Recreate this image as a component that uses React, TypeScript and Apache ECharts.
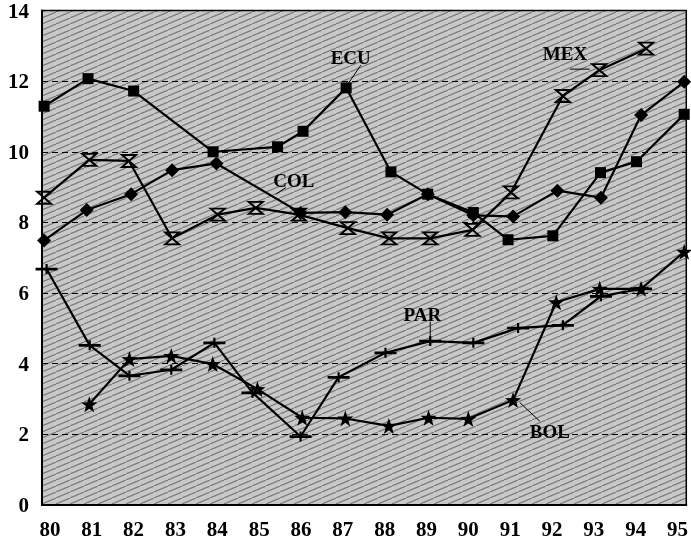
import React, { useEffect, useRef } from "react";
import * as echarts from "echarts";

// Years (x) and values (y) for each series
const ecuX = [79.86, 80.91, 82.0, 83.9, 85.44, 86.05, 87.08, 88.15, 89.03, 90.12, 90.95, 92.02, 93.16, 94.02, 95.16];
const ecuY = [11.29, 12.07, 11.72, 10.0, 10.14, 10.58, 11.81, 9.43, 8.8, 8.28, 7.51, 7.62, 9.41, 9.72, 11.06];

const mexX = [79.86, 80.94, 81.89, 82.92, 84.01, 84.92, 85.95, 87.12, 88.11, 89.09, 90.1, 91.02, 92.26, 93.13, 94.25];
const mexY = [8.7, 9.77, 9.74, 7.55, 8.22, 8.41, 8.22, 7.84, 7.55, 7.55, 7.79, 8.85, 11.58, 12.31, 12.92];

const colX = [79.86, 80.88, 81.94, 82.92, 83.98, 85.99, 87.06, 88.06, 89.03, 90.12, 91.07, 92.13, 93.17, 94.13, 95.16];
const colY = [7.49, 8.35, 8.8, 9.48, 9.67, 8.27, 8.29, 8.22, 8.8, 8.2, 8.17, 8.9, 8.7, 11.04, 11.98];

const parX = [79.92, 80.95, 81.9, 82.9, 83.93, 84.84, 85.99, 86.9, 88.02, 89.09, 90.12, 91.19, 92.26, 93.17, 94.13];
const parY = [6.68, 4.52, 3.66, 3.83, 4.59, 3.18, 1.94, 3.62, 4.31, 4.64, 4.59, 5.01, 5.09, 5.91, 6.12];

const bolX = [80.94, 81.9, 82.9, 83.89, 84.96, 86.03, 87.06, 88.1, 89.05, 90.0, 91.07, 92.1, 93.14, 94.13, 95.16];
const bolY = [2.85, 4.13, 4.22, 3.99, 3.28, 2.47, 2.45, 2.24, 2.47, 2.44, 2.97, 5.74, 6.12, 6.12, 7.17];

const xTickLabels = [80, 81, 82, 83, 84, 85, 86, 87, 88, 89, 90, 91, 92, 93, 94, 95];

// Series name labels: text anchor and leader line (data coordinates)
const seriesLabels = [
  { text: "ECU", at: [87.19, 12.68], leader: [[87.43, 12.45], [87.14, 11.95]] },
  { text: "MEX", at: [92.31, 12.79], leader: [[92.43, 12.34], [92.9, 12.34]] },
  { text: "COL", at: [85.83, 9.2], leader: [[85.64, 8.99], [85.4, 8.8]] },
  { text: "PAR", at: [88.9, 5.4], leader: [[89.09, 5.19], [89.09, 4.59]] },
  { text: "BOL", at: [91.95, 2.09], leader: [[91.23, 2.9], [91.71, 2.37]] },
];

const zip = (xs: number[], ys: number[]) => xs.map((x, i) => [x, ys[i]]);

const HOURGLASS = "path://M0,0 L12,0 L0,12 L12,12 Z";
const DASH = "path://M0,4 L20,4 L20,6.2 L0,6.2 Z M9,1 L11,1 L11,9 L9,9 Z";
const STAR =
  "path://M10,0 L12.35,6.76 L19.51,6.91 L13.8,11.24 L15.88,18.09 L10,14 L4.12,18.09 L6.2,11.24 L0.49,6.91 L7.65,6.76 Z";

function makePattern() {
  const c = document.createElement("canvas");
  c.width = 14;
  c.height = 6;
  const ctx = c.getContext("2d");
  if (ctx) {
    ctx.fillStyle = "#c8c8c8";
    ctx.fillRect(0, 0, 14, 6);
    ctx.strokeStyle = "#7a7a7a";
    ctx.lineWidth = 1.2;
    ctx.beginPath();
    ctx.moveTo(-1, 6.4);
    ctx.lineTo(15, -0.4);
    ctx.stroke();
  }
  return { image: c, repeat: "repeat" };
}

export default function App() {
  const ref = useRef<HTMLDivElement>(null);
  useEffect(() => {
    if (!ref.current) return;
    document.body.style.margin = "0";
    const chart = echarts.init(ref.current, null, { renderer: "svg" });
    const font = "'Liberation Serif', 'Times New Roman', serif";
    const lineStyle = { color: "#000", width: 2.2 };
    const base = {
      type: "line",
      lineStyle,
      z: 3,
    };
    chart.setOption({
      animation: false,
      grid: {
        left: 42,
        right: 2,
        top: 10,
        bottom: 38,
        show: true,
        backgroundColor: makePattern(),
        borderColor: "#000",
        borderWidth: 1.5,
      },
      xAxis: {
        type: "value",
        min: 79.81,
        max: 95.21,
        axisLine: { show: true, lineStyle: { color: "#000", width: 2 } },
        axisTick: { show: false },
        splitLine: { show: false },
        axisLabel: {
          customValues: xTickLabels,
          margin: 13,
          color: "#000",
          fontFamily: font,
          fontWeight: "bold",
          fontSize: 21,
        },
      },
      yAxis: {
        type: "value",
        min: 0,
        max: 14,
        interval: 2,
        axisLine: { show: true, lineStyle: { color: "#000", width: 2 } },
        axisTick: { show: false },
        splitLine: { show: true, lineStyle: { color: "#000", width: 1, type: [6, 4] } },
        axisLabel: {
          margin: 13,
          color: "#000",
          fontFamily: font,
          fontWeight: "bold",
          fontSize: 21,
        },
      },
      series: [
        {
          ...base,
          name: "ECU",
          data: zip(ecuX, ecuY),
          symbol: "rect",
          symbolSize: 11,
          itemStyle: { color: "#000" },
        },
        {
          ...base,
          name: "MEX",
          data: zip(mexX, mexY),
          symbol: HOURGLASS,
          symbolSize: [14, 12],
          itemStyle: { color: "rgba(0,0,0,0)", borderColor: "#000", borderWidth: 2 },
        },
        {
          ...base,
          name: "COL",
          data: zip(colX, colY),
          symbol: "diamond",
          symbolSize: 14,
          itemStyle: { color: "#000" },
        },
        {
          ...base,
          name: "PAR",
          data: zip(parX, parY),
          symbol: DASH,
          symbolSize: [22, 10],
          itemStyle: { color: "#000" },
        },
        {
          ...base,
          name: "BOL",
          data: zip(bolX, bolY),
          symbol: STAR,
          symbolSize: 16,
          itemStyle: { color: "#000" },
        },
      ],
    });

    const graphics: any[] = [];
    seriesLabels.forEach((l) => {
      const p = chart.convertToPixel({ gridIndex: 0 }, l.at) as number[];
      const a = chart.convertToPixel({ gridIndex: 0 }, l.leader[0]) as number[];
      const b = chart.convertToPixel({ gridIndex: 0 }, l.leader[1]) as number[];
      graphics.push({
        type: "text",
        x: p[0],
        y: p[1],
        z: 10,
        style: {
          text: l.text,
          fill: "#000",
          font: `bold 19px ${font}`,
          align: "center",
          verticalAlign: "middle",
        },
      });
      graphics.push({
        type: "line",
        z: 10,
        shape: { x1: a[0], y1: a[1], x2: b[0], y2: b[1] },
        style: { stroke: "#000", lineWidth: 1 },
      });
    });
    chart.setOption({ graphic: graphics });

    return () => chart.dispose();
  }, []);
  return (
    <div
      ref={ref}
      style={{ position: "fixed", left: 0, top: 0, width: 691, height: 543 }}
    />
  );
}
